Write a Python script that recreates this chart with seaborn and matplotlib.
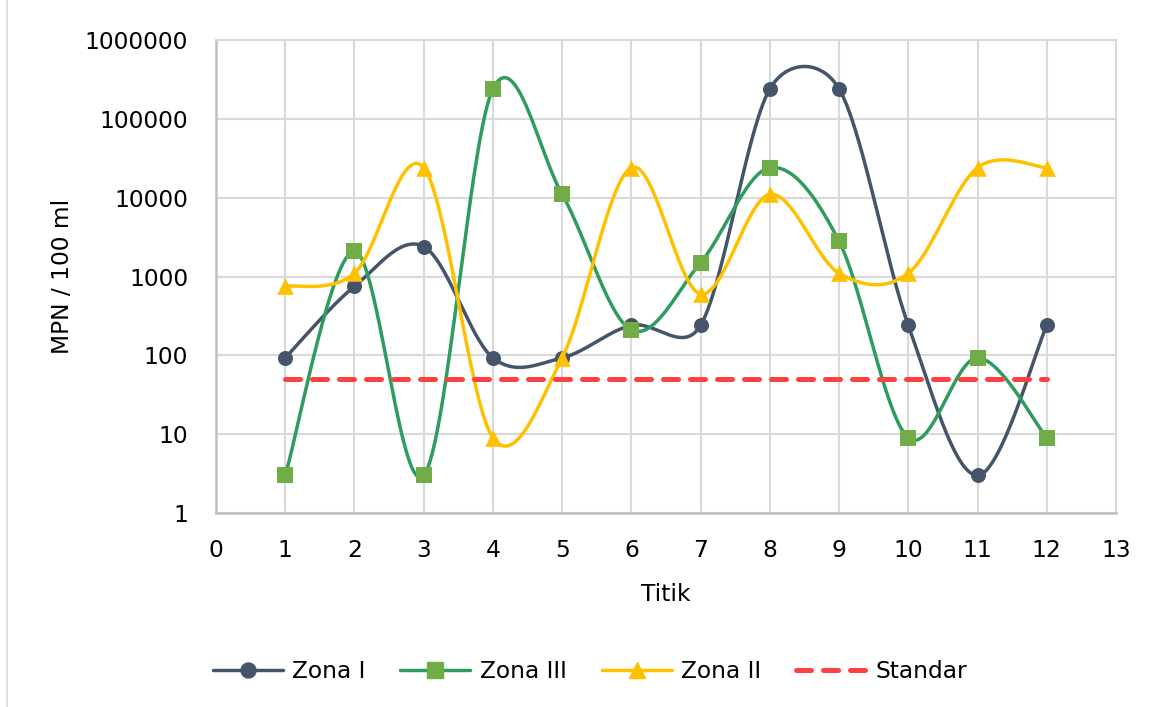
import numpy as np
import pandas as pd
import matplotlib
matplotlib.use("Agg")
import matplotlib.pyplot as plt
import seaborn as sns
from matplotlib.lines import Line2D

# ---------------- data ----------------
titik = [1, 2, 3, 4, 5, 6, 7, 8, 9, 10, 11, 12]
zona_1 = [93, 750, 2400, 93, 93, 240, 240, 240000, 240000, 240, 3, 240]
zona_3 = [3, 2100, 3, 240000, 11000, 210, 1500, 24000, 2800, 9, 93, 9]
zona_2 = [750, 1100, 24000, 9, 93, 24000, 600, 11000, 1100, 1100, 24000, 24000]
standar = [50, 50, 50, 50, 50, 50, 50, 50, 50, 50, 50, 50]

x_ticks = list(range(0, 14))
y_ticks = [1, 10, 100, 1000, 10000, 100000, 1000000]
y_ticklabels = ["1", "10", "100", "1000", "10000", "100000", "1000000"]

# ---------------- style ----------------
sns.set_style("white")
plt.rcParams["font.family"] = ["DejaVu Sans"]
plt.rcParams["text.color"] = "black"
plt.rcParams["axes.labelcolor"] = "black"
FS = 16.8

W, H = 1155, 707
fig = plt.figure(figsize=(W / 100, H / 100), dpi=100)
L, R, T, B = 216, 1116, 40, 513
ax = fig.add_axes([L / W, 1 - B / H, (R - L) / W, (B - T) / H])
ax.set_yscale("log")
ax.set_xlim(0, 13)
ax.set_ylim(1, 1000000)


def excel_smooth(ax, xs, ys, n=60):
    """Smoothed line like Excel's 'smoothed line' option (Bezier in screen space)."""
    pts = ax.transData.transform(np.column_stack([xs, ys]).astype(float))
    N = len(pts)
    out = [pts[0]]
    t = np.linspace(0, 1, n)[1:][:, None]
    for i in range(N - 1):
        p0 = pts[i - 1] if i > 0 else pts[i]
        p1 = pts[i]
        p2 = pts[i + 1]
        p3 = pts[i + 2] if i + 2 < N else pts[i + 1]
        d12 = np.linalg.norm(p2 - p1)
        d02 = np.linalg.norm(p2 - p0)
        d13 = np.linalg.norm(p3 - p1)
        f1 = 1 / 6
        f2 = 1 / 6
        if d02 > 0 and d02 / 6 > d12 / 2:
            f1 = d12 / (2 * d02)
        if d13 > 0 and d13 / 6 > d12 / 2:
            f2 = d12 / (2 * d13)
        c1 = p1 + f1 * (p2 - p0)
        c2 = p2 - f2 * (p3 - p1)
        seg = ((1 - t) ** 3) * p1 + 3 * ((1 - t) ** 2) * t * c1 + 3 * (1 - t) * t ** 2 * c2 + t ** 3 * p2
        out.extend(seg)
    out = np.array(out)
    return ax.transData.inverted().transform(out)


series = [
    ("Zona I", zona_1, "#44546A", "#44546A", "o", 10.8),
    ("Zona III", zona_3, "#2E9B5F", "#70AD47", "s", 11.0),
    ("Zona II", zona_2, "#FFC000", "#FFC000", "^", 12.0),
]

LW = 2.5
handles = []
for k, (name, vals, lc, mc, mk, ms) in enumerate(series):
    z = 3 + k
    curve = excel_smooth(ax, titik, vals)
    df = pd.DataFrame({"x": curve[:, 0], "y": curve[:, 1]})
    sns.lineplot(data=df, x="x", y="y", ax=ax, color=lc, linewidth=LW,
                 sort=False, estimator=None, legend=False, zorder=z)
    sns.scatterplot(x=titik, y=vals, ax=ax, marker=mk, s=ms ** 2, color=mc,
                    edgecolor=mc, linewidth=0, legend=False, zorder=z + 0.5)
    handles.append(Line2D([], [], color=lc, lw=LW, marker=mk, markersize=ms,
                          markerfacecolor=mc, markeredgecolor=mc, label=name))

sns.lineplot(x=titik, y=standar, ax=ax, color="#FF4040", linewidth=3.6,
             linestyle=(0, (3, 2.4)), legend=False, zorder=7)
ax.lines[-1].set_dash_capstyle("round")
handles.append(Line2D([], [], color="#FF4040", lw=3.6, linestyle=(0, (3, 2.4)),
                      dash_capstyle="round", label="Standar"))

# ---------------- axes ----------------
ax.set_xticks(x_ticks)
ax.set_xticklabels([str(v) for v in x_ticks])
ax.set_yticks(y_ticks)
ax.set_yticklabels(y_ticklabels)
ax.yaxis.set_minor_locator(matplotlib.ticker.NullLocator())
ax.tick_params(axis="both", length=0, labelsize=FS, colors="black")
ax.tick_params(axis="y", pad=20)
ax.tick_params(axis="x", pad=18.5)
ax.grid(True, which="major", color="#D9D9D9", linewidth=1.5)
ax.set_axisbelow(True)
for side in ["top", "right"]:
    ax.spines[side].set_color("#D9D9D9")
    ax.spines[side].set_linewidth(1.5)
for side in ["left", "bottom"]:
    ax.spines[side].set_color("#BFBFBF")
    ax.spines[side].set_linewidth(1.8)

ax.set_xlabel("Titik", fontsize=FS, color="black")
ax.set_ylabel("MPN / 100 ml", fontsize=FS, color="black")
ax.xaxis.set_label_coords(0.5, -0.148)
ax.yaxis.set_label_coords(-0.158, 0.5)

leg = fig.legend(handles=handles, loc="center", bbox_to_anchor=(590 / W, 1 - 672 / H),
                 ncol=4, frameon=False, fontsize=FS, handlelength=3.0,
                 handletextpad=0.4, columnspacing=1.5, numpoints=1)
for txt in leg.get_texts():
    txt.set_color("black")

# chart border (left edge visible in reference)
fig.add_artist(Line2D([7 / W, 7 / W], [0, 1], transform=fig.transFigure,
                      color="#D9D9D9", lw=1.2))

fig.savefig("out.png", dpi=100)
